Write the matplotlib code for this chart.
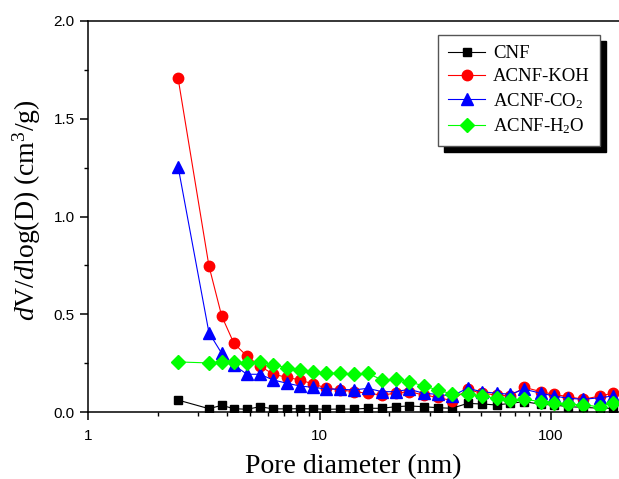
import numpy as np
import matplotlib
matplotlib.use('Agg')
import matplotlib.pyplot as plt
from matplotlib.ticker import LogLocator, MultipleLocator, FixedLocator

plt.rcParams['mathtext.fontset'] = 'custom'
plt.rcParams['mathtext.rm'] = 'Liberation Serif'
plt.rcParams['mathtext.it'] = 'Liberation Serif:italic'

# pore diameter (nm)
diam = [2.45, 3.33, 3.78, 4.27, 4.86, 5.53, 6.30, 7.24, 8.24, 9.38, 10.7,
        12.3, 14.1, 16.2, 18.6, 21.3, 24.4, 28.2, 32.4, 37.3, 43.6, 50.2,
        58.2, 66.5, 76.7, 90.6, 103, 119, 138, 163, 185]

cnf = [0.061, 0.017, 0.034, 0.017, 0.014, 0.027, 0.016, 0.016, 0.017, 0.016, 0.014,
       0.015, 0.015, 0.019, 0.019, 0.027, 0.031, 0.027, 0.022, 0.019, 0.044, 0.041,
       0.036, 0.044, 0.053, 0.039, 0.036, 0.027, 0.024, 0.019, 0.019]
koh = [1.707, 0.747, 0.491, 0.351, 0.286, 0.235, 0.194, 0.177, 0.164, 0.143, 0.123,
       0.113, 0.104, 0.096, 0.087, 0.096, 0.104, 0.087, 0.075, 0.058, 0.116, 0.096,
       0.087, 0.082, 0.126, 0.104, 0.090, 0.078, 0.065, 0.082, 0.096]
co2 = [1.255, 0.406, 0.300, 0.240, 0.193, 0.193, 0.164, 0.147, 0.133, 0.126, 0.118,
       0.116, 0.113, 0.121, 0.104, 0.104, 0.116, 0.096, 0.090, 0.082, 0.121, 0.104,
       0.096, 0.091, 0.116, 0.096, 0.082, 0.070, 0.065, 0.073, 0.082]
h2o = [0.256, 0.251, 0.254, 0.254, 0.251, 0.256, 0.242, 0.227, 0.213, 0.206, 0.198,
       0.198, 0.193, 0.198, 0.164, 0.167, 0.155, 0.133, 0.113, 0.092, 0.090, 0.082,
       0.070, 0.061, 0.065, 0.053, 0.048, 0.039, 0.036, 0.027, 0.048]

labels = ['CNF', 'ACNF-KOH', 'ACNF-CO$_2$', 'ACNF-H$_2$O']
series = [cnf, koh, co2, h2o]
colors = ['black', 'red', 'blue', '#00ff00']
markers = ['s', 'o', '^', 'D']
msizes = [6, 7.5, 8, 7]

fig = plt.figure(figsize=(6.19, 4.79), dpi=100)
ax = fig.add_axes([88 / 619, 1 - 412 / 479, 1 - 88 / 619, (412 - 21) / 479])

for y, lab, c, m, ms in zip(series, labels, colors, markers, msizes):
    ax.plot(diam, y, color=c, marker=m, markersize=ms, markeredgecolor=c,
            markerfacecolor=c, linewidth=0.8, label=lab)

ax.set_xscale('log')
ax.set_xlim(1, 10 ** ((619 - 88) / 231.5))
ax.set_ylim(0, 2.0)
ax.yaxis.set_major_locator(MultipleLocator(0.5))
ax.yaxis.set_minor_locator(MultipleLocator(0.25))
ax.xaxis.set_major_locator(FixedLocator([1, 10, 100]))
ax.xaxis.set_minor_locator(LogLocator(base=10, subs=np.arange(2, 10)))
ax.set_xticklabels(['1', '10', '100'])
ax.set_yticks([0, 0.5, 1.0, 1.5, 2.0])
ax.set_yticklabels(['0.0', '0.5', '1.0', '1.5', '2.0'])

ax.spines['right'].set_visible(False)
for s in ['left', 'bottom', 'top']:
    ax.spines[s].set_linewidth(1.1)
ax.tick_params(which='major', direction='out', length=6, width=1.1,
               labelsize=11, top=False, right=False)
ax.tick_params(axis='x', which='major', pad=6)
ax.tick_params(which='minor', direction='out', length=3, width=1.0,
               top=False, right=False)
for t in ax.get_xticklabels() + ax.get_yticklabels():
    t.set_fontfamily('Liberation Sans')

ax.set_xlabel('Pore diameter (nm)', fontfamily='Liberation Serif', fontsize=20, labelpad=8)
ax.set_ylabel('$d$V/$d$log(D) (cm$^3$/g)', fontfamily='Liberation Serif', fontsize=20, labelpad=7)
ax.yaxis.set_label_coords(-0.085, 0.517)

leg = ax.legend(loc='upper right', bbox_to_anchor=(600 / 619, 1 - 35 / 479),
                bbox_transform=fig.transFigure, borderaxespad=0, fancybox=False,
                prop={'family': 'Liberation Serif', 'size': 13.5},
                handlelength=2.0, handletextpad=0.4, labelspacing=0.3, borderpad=0.55,
                shadow={'ox': 4.3, 'oy': -4.3, 'facecolor': 'black',
                        'edgecolor': 'black', 'alpha': 1})
leg.get_frame().set_edgecolor('#555555')
leg.get_frame().set_linewidth(1.0)

fig.savefig('out.png', dpi=100)
